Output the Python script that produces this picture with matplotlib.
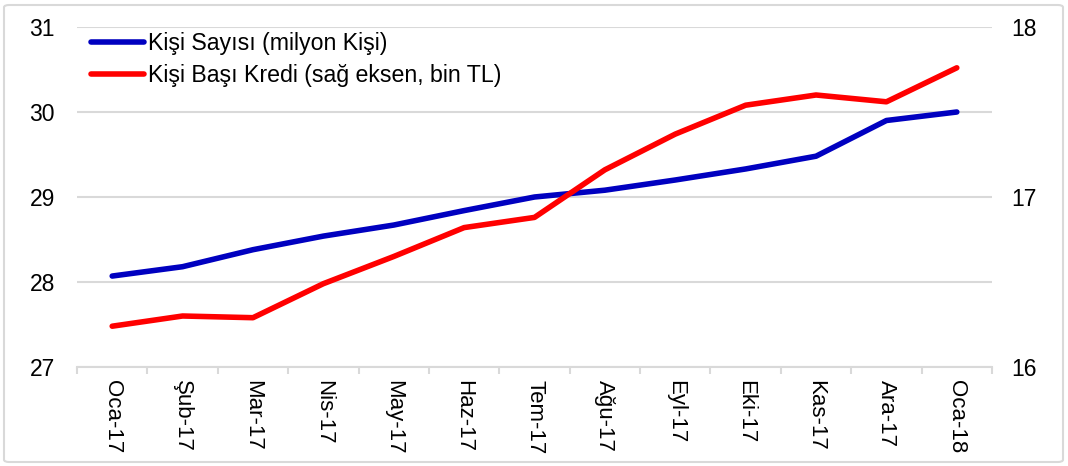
import matplotlib
matplotlib.use("Agg")
import matplotlib.pyplot as plt
from matplotlib.patches import FancyBboxPatch

plt.rcParams['font.family'] = ['Liberation Sans', 'DejaVu Sans']

categories = ["Oca-17", "Şub-17", "Mar-17", "Nis-17", "May-17", "Haz-17", "Tem-17",
              "Ağu-17", "Eyl-17", "Eki-17", "Kas-17", "Ara-17", "Oca-18"]
kisi_sayisi = [28.07, 28.18, 28.38, 28.54, 28.67, 28.84, 29.00, 29.08, 29.20, 29.33, 29.48, 29.90, 30.00]
kisi_basi_kredi = [16.24, 16.30, 16.29, 16.49, 16.65, 16.82, 16.88, 17.16, 17.37, 17.54, 17.60, 17.56, 17.76]

fig = plt.figure(figsize=(10.68, 4.66), dpi=100)
ax = fig.add_axes([77/1068, 1-367/466, (992-77)/1068, (367-27)/466])
ax2 = ax.twinx()

x = list(range(len(categories)))
l1, = ax.plot(x, kisi_sayisi, color='#0000C0', lw=4, solid_capstyle='round', zorder=3)
l2, = ax2.plot(x, kisi_basi_kredi, color='#FF0000', lw=4, solid_capstyle='round', zorder=3)

ax.set_xlim(-0.5, len(categories) - 0.5)
ax.set_ylim(27, 31)
ax2.set_ylim(16, 18)
ax.set_yticks([27, 28, 29, 30, 31])
ax2.set_yticks([16, 17, 18])

ax.grid(axis='y', color='#D9D9D9', lw=1.5)
ax.set_axisbelow(True)

for a in (ax, ax2):
    for s in ['top', 'right', 'left', 'bottom']:
        a.spines[s].set_visible(False)
ax.spines['bottom'].set_visible(True)
ax.spines['bottom'].set_color('#D9D9D9')
ax.spines['bottom'].set_linewidth(1.5)

ax.set_xticks(x)
ax.set_xticklabels(categories, rotation=-90, fontsize=16)
ax.tick_params(axis='x', length=0, pad=9)
ax.set_xticks([i - 0.5 for i in range(len(categories) + 1)], minor=True)
ax.tick_params(axis='x', which='minor', length=5, color='#D9D9D9', width=1.5)
ax.tick_params(axis='y', length=0, labelsize=16.5, pad=16)
ax2.tick_params(axis='y', length=0, labelsize=16.5, pad=14)

leg = ax.legend([l1, l2], ["Kişi Sayısı (milyon Kişi)", "Kişi Başı Kredi (sağ eksen, bin TL)"],
                loc='upper left', bbox_to_anchor=(14/915, 1 - 5/340), frameon=False, fontsize=16.7,
                handlelength=2.3, handletextpad=0.15, labelspacing=0.4, borderaxespad=0.0,
                borderpad=0.0)

border = FancyBboxPatch((4/1068, 4/466), 1 - 9/1068, 1 - 9/466, boxstyle="round,pad=0,rounding_size=0.005",
                        transform=fig.transFigure, fill=False, edgecolor='#D9D9D9', lw=1.5)
fig.patches.append(border)

fig.savefig("out.png", dpi=100)
